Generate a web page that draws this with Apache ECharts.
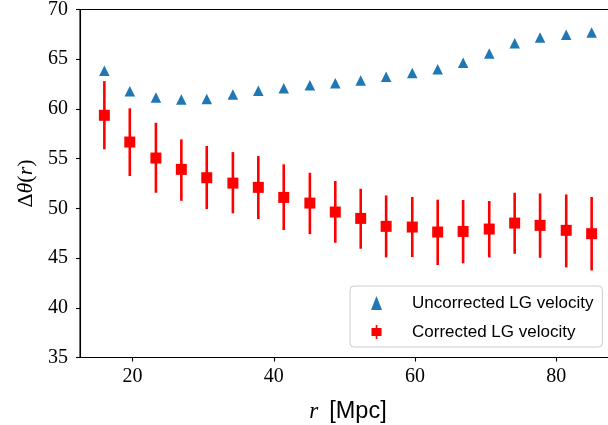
<!DOCTYPE html>
<html>
<head>
<meta charset="utf-8">
<script src="https://cdn.jsdelivr.net/npm/echarts@6/dist/echarts.min.js"></script>
<style>html,body{margin:0;padding:0;background:#fff;}#c{width:608px;height:425px;}</style>
</head>
<body>
<div id="c"></div>
<script>
var rValues = [16.0, 19.6, 23.3, 26.9, 30.5, 34.2, 37.8, 41.4, 45.1, 48.7, 52.3, 55.9, 59.6, 63.2, 66.8, 70.5, 74.1, 77.7, 81.4, 85.0];
var uncorrected = [63.83, 61.77, 61.15, 60.95, 61.0, 61.45, 61.83, 62.07, 62.37, 62.58, 62.86, 63.24, 63.61, 64.0, 64.65, 65.57, 66.61, 67.18, 67.45, 67.69];
var corrected = [59.36, 56.67, 55.06, 53.92, 53.08, 52.54, 52.11, 51.10, 50.53, 49.63, 48.99, 48.19, 48.12, 47.62, 47.68, 47.92, 48.52, 48.29, 47.79, 47.45];
var correctedHigh = [62.8, 60.06, 58.61, 56.94, 56.27, 55.66, 55.26, 54.43, 53.58, 52.75, 51.97, 51.3, 51.14, 50.87, 50.84, 50.74, 51.57, 51.5, 51.4, 51.14];
var correctedLow = [55.94, 53.25, 51.57, 50.76, 49.93, 49.5, 48.92, 47.82, 47.41, 46.54, 45.94, 45.07, 45.1, 44.3, 44.47, 45.07, 45.43, 45.03, 44.06, 43.76];
var xTicks = [20, 40, 60, 80];
var seriesNames = ['Uncorrected LG velocity', 'Corrected LG velocity'];

var uncData = rValues.map(function (r, i) { return [r, uncorrected[i]]; });
var corData = rValues.map(function (r, i) { return [r, corrected[i]]; });
var errData = rValues.map(function (r, i) { return [r, correctedLow[i], correctedHigh[i]]; });

var serif = 'Liberation Serif';
var sans = 'Liberation Sans';
var chart = echarts.init(document.getElementById('c'), null, {renderer: 'canvas'});
chart.setOption({
  animation: false,
  backgroundColor: '#ffffff',
  grid: {left: 80, top: 9.5, width: 536, height: 348, outerBoundsMode: 'none', containLabel: false,
    show: true, borderColor: '#000', borderWidth: 1.1, backgroundColor: 'transparent'},
  legend: {
    orient: 'vertical',
    left: 350, top: 286,
    padding: [8, 9, 6, 21],
    itemGap: 11,
    itemWidth: 11, itemHeight: 14,
    backgroundColor: 'rgba(255,255,255,0.8)',
    borderColor: '#cccccc', borderWidth: 1, borderRadius: 4,
    textStyle: {fontFamily: sans, fontSize: 17, color: '#000', lineHeight: 18, padding: [0, 0, 0, 25]},
    data: [
      {name: seriesNames[0], icon: 'triangle'},
      {name: seriesNames[1], icon: 'path://M0,3H10V11H0Z M4.2,0H5.8V14H4.2Z'}
    ]
  },
  xAxis: {
    type: 'value', min: 12.55, max: 88.45,
    axisLine: {show: true, lineStyle: {color: '#000', width: 1.1}},
    axisTick: {show: true, inside: false, length: 4, customValues: xTicks, lineStyle: {color: '#000', width: 1.1}},
    axisLabel: {customValues: xTicks, fontFamily: serif, fontSize: 20, color: '#000', margin: 9},
    splitLine: {show: false},
    name: '{i|r}{g| }{s|[Mpc]}',
    nameLocation: 'middle', nameGap: 42,
    nameTextStyle: {rich: {
      i: {fontFamily: serif, fontStyle: 'italic', fontSize: 23, color: '#000'},
      g: {fontFamily: serif, fontSize: 23, color: '#000', width: 11},
      s: {fontFamily: sans, fontSize: 23.5, color: '#000'}
    }}
  },
  yAxis: {
    type: 'value', min: 35, max: 70, interval: 5,
    axisLine: {show: true, lineStyle: {color: '#000', width: 1.1}},
    axisTick: {show: true, inside: false, length: 4, lineStyle: {color: '#000', width: 1.1}},
    axisLabel: {fontFamily: serif, fontSize: 20, color: '#000', margin: 12},
    splitLine: {show: false},
    name: '{a|Δ}{b|θ}{a|(}{b|r}{a|)}',
    nameLocation: 'middle', nameGap: 42, nameRotate: 90,
    nameTextStyle: {rich: {
      a: {fontFamily: serif, fontSize: 22, color: '#000'},
      b: {fontFamily: serif, fontStyle: 'italic', fontSize: 22, color: '#000'}
    }}
  },
  series: [
    {
      name: seriesNames[0], type: 'scatter', data: uncData,
      symbol: 'triangle', symbolSize: [10.5, 10.5],
      itemStyle: {color: '#1f77b4', opacity: 1}, z: 3
    },
    {
      name: 'Corrected LG velocity error', type: 'custom', data: errData,
      renderItem: function (params, api) {
        var x = api.value(0);
        var p1 = api.coord([x, api.value(1)]);
        var p2 = api.coord([x, api.value(2)]);
        return {type: 'line', shape: {x1: p1[0], y1: p1[1], x2: p2[0], y2: p2[1]},
          style: {stroke: '#ff0000', lineWidth: 2.6}};
      },
      z: 2
    },
    {
      name: seriesNames[1], type: 'scatter', data: corData,
      symbol: 'rect', symbolSize: [11, 11],
      itemStyle: {color: '#ff0000', opacity: 1}, z: 4
    }
  ]
});
</script>
</body>
</html>
